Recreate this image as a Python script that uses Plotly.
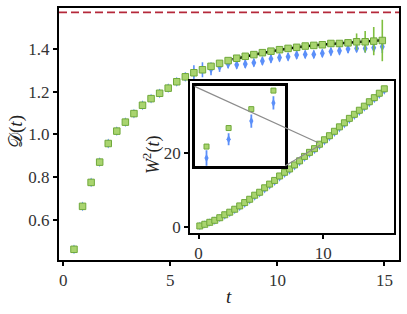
import plotly.graph_objects as go

# ---------------- data ----------------
t_main = [0.5, 0.9, 1.3, 1.7, 2.1, 2.5, 2.9, 3.3, 3.7, 4.1, 4.5, 4.9, 5.3, 5.7, 6.1,
          6.5, 6.9, 7.3, 7.7, 8.1, 8.5, 8.9, 9.3, 9.7, 10.1, 10.5, 10.9, 11.3, 11.7,
          12.1, 12.5, 12.9, 13.3, 13.7, 14.1, 14.5, 14.9]
D_square = [0.462, 0.663, 0.775, 0.870, 0.957, 1.015, 1.057, 1.097, 1.136, 1.167,
            1.192, 1.216, 1.246, 1.269, 1.288, 1.302, 1.318, 1.332, 1.345, 1.356,
            1.365, 1.373, 1.382, 1.389, 1.396, 1.402, 1.407, 1.413, 1.416, 1.419,
            1.425, 1.425, 1.428, 1.433, 1.433, 1.436, 1.439]
D_square_err = [0.004] * 30 + [0.01, 0.01, 0.015, 0.039, 0.05, 0.066, 0.097]
D_diamond = [0.462, 0.663, 0.775, 0.870, 0.957, 1.015, 1.057, 1.097, 1.136, 1.167,
             1.192, 1.216, 1.246, 1.269, 1.288, 1.302, 1.306, 1.317, 1.329, 1.325,
             1.329, 1.335, 1.343, 1.353, 1.359, 1.363, 1.371, 1.374, 1.374, 1.379,
             1.387, 1.391, 1.399, 1.402, 1.402, 1.405, 1.410]
D_diamond_err = [0.006] * 13 + [0.02, 0.035, 0.035, 0.03, 0.025, 0.02] + [0.018] * 17 + [0.03]
fit_t = [7.9, 9.0, 10.0, 11.0, 12.0, 13.0, 14.0, 14.9]
fit_D = [1.350, 1.375, 1.393, 1.408, 1.419, 1.427, 1.434, 1.440]
D_limit = 1.5708

t_inset = [0.1, 0.5, 0.9, 1.3, 1.7, 2.1, 2.5, 2.9, 3.3, 3.7, 4.1, 4.5, 4.9, 5.3, 5.7,
           6.1, 6.5, 6.9, 7.3, 7.7, 8.1, 8.5, 8.9, 9.3, 9.7, 10.1, 10.5, 10.9, 11.3,
           11.7, 12.1, 12.5, 12.9, 13.3, 13.7, 14.1, 14.5, 14.9]
W_square = [0.27, 0.73, 1.26, 1.8, 2.5, 3.3, 4.0, 4.8, 5.7, 6.6, 7.5, 8.6, 9.4, 10.6,
            11.6, 12.6, 13.8, 14.8, 15.7, 16.8, 17.9, 19.1, 20.2, 21.2, 22.4, 23.6,
            24.7, 25.9, 27.1, 28.2, 29.4, 30.5, 31.6, 32.7, 33.9, 35.0, 36.2, 37.4]
W_diamond = [0.27, 0.7, 1.2, 1.7, 2.4, 3.1, 3.8, 4.6, 5.4, 6.3, 7.2, 8.2, 9.1, 10.2,
             11.2, 12.2, 13.4, 14.4, 15.3, 16.4, 17.5, 18.7, 19.8, 20.8, 22.0, 23.2,
             24.3, 25.5, 26.7, 27.8, 29.0, 30.1, 31.2, 32.3, 33.5, 34.6, 35.8, 36.9]

zoom_t = [9.621, 9.660, 9.700, 9.739]
zoom_square = [22.345, 22.485, 22.628, 22.768]
zoom_diamond = [22.258, 22.400, 22.538, 22.675]
zoom_diamond_err = [0.06, 0.045, 0.05, 0.05]

# ---------------- layout constants ----------------
GREEN_FILL = "#a9d46f"
GREEN_EDGE = "#6fa83a"
GREEN_ERR = "#7fbf3f"
BLUE = "#5b8ff9"
FONT = "'Liberation Serif', 'DejaVu Serif', serif"

main_xr = [-0.2, 15.68]
main_yr = [0.412, 1.591]
ins_dom_x = [0.3856, 0.9839]
ins_dom_y = [0.1075, 0.7087]
ins_xr = [-0.68, 15.64]
ins_yr = [-1.61, 39.4]
zin_dom_x = [0.3988, 0.6657]
zin_dom_y = [0.374, 0.689]
zoom_xr = [9.60, 9.76]
zoom_yr = [22.2, 22.8]

fig = go.Figure()

# main panel
fig.add_trace(go.Scatter(
    x=t_main, y=D_diamond, mode="markers",
    marker=dict(symbol="diamond-tall", size=7, color=BLUE, line=dict(width=0)),
    error_y=dict(type="data", array=D_diamond_err, color=BLUE, thickness=1.6, width=0),
    xaxis="x", yaxis="y", showlegend=False))
fig.add_trace(go.Scatter(
    x=fit_t, y=fit_D, mode="lines", line=dict(color="black", width=2.5),
    xaxis="x", yaxis="y", showlegend=False))
fig.add_trace(go.Scatter(
    x=t_main, y=D_square, mode="markers",
    marker=dict(symbol="square", size=6.5, color=GREEN_FILL, line=dict(width=1, color=GREEN_EDGE)),
    error_y=dict(type="data", array=D_square_err, color=GREEN_ERR, thickness=1.6, width=0),
    xaxis="x", yaxis="y", showlegend=False))
fig.add_trace(go.Scatter(
    x=main_xr, y=[D_limit, D_limit], mode="lines",
    line=dict(color="#b5283a", width=1.8, dash="8px,4px"),
    xaxis="x", yaxis="y", showlegend=False))

# inset panel
fig.add_trace(go.Scatter(
    x=t_inset, y=W_diamond, mode="markers",
    marker=dict(symbol="diamond-tall", size=6, color=BLUE, line=dict(width=0)),
    xaxis="x2", yaxis="y2", showlegend=False))
fig.add_trace(go.Scatter(
    x=t_inset, y=W_square, mode="markers",
    marker=dict(symbol="square", size=6, color=GREEN_FILL, line=dict(width=1, color=GREEN_EDGE)),
    xaxis="x2", yaxis="y2", showlegend=False))

# zoom panel inside inset
fig.add_trace(go.Scatter(
    x=zoom_t, y=zoom_diamond, mode="markers",
    marker=dict(symbol="diamond-tall", size=6, color=BLUE, line=dict(width=0)),
    error_y=dict(type="data", array=zoom_diamond_err, color=BLUE, thickness=1.8, width=0),
    xaxis="x3", yaxis="y3", showlegend=False))
fig.add_trace(go.Scatter(
    x=zoom_t, y=zoom_square, mode="markers",
    marker=dict(symbol="square", size=5, color=GREEN_FILL, line=dict(width=1, color=GREEN_EDGE)),
    xaxis="x3", yaxis="y3", showlegend=False))


def to_paper(v, rng, dom):
    return dom[0] + (v - rng[0]) / (rng[1] - rng[0]) * (dom[1] - dom[0])


# connector lines (zoom region corners -> zoom panel corners)
conn = [
    ((zin_dom_x[0], zin_dom_y[1]), (zoom_xr[0], zoom_yr[1])),
    ((zin_dom_x[1], zin_dom_y[0]), (zoom_xr[1], zoom_yr[0])),
]
shapes = []
for (px, py), (dx, dy) in conn:
    shapes.append(dict(
        type="line", xref="paper", yref="paper",
        x0=px, y0=py,
        x1=to_paper(dx, ins_xr, ins_dom_x), y1=to_paper(dy, ins_yr, ins_dom_y),
        line=dict(color="#8c8c8c", width=1.2), layer="above"))

tickfont = dict(family=FONT, size=17, color="#333333")
axis_common = dict(showgrid=False, zeroline=False, showline=True, mirror=True,
                   linecolor="black", ticks="outside", tickcolor="black",
                   tickfont=tickfont)

fig.update_layout(
    width=407, height=314,
    margin=dict(l=59, r=7, t=6, b=54),
    paper_bgcolor="white", plot_bgcolor="white",
    font=dict(family=FONT, color="#222222"),
    xaxis=dict(domain=[0, 1], range=main_xr, tickvals=[0, 5, 10, 15],
               linewidth=2, ticklen=4, tickwidth=1.5, anchor="y", **axis_common),
    yaxis=dict(domain=[0, 1], range=main_yr, tickvals=[0.6, 0.8, 1.0, 1.2, 1.4],
               ticktext=["0.6", "0.8", "1.0", "1.2", "1.4"],
               linewidth=2, ticklen=4, tickwidth=1.5, anchor="x", **axis_common),
    xaxis2=dict(domain=ins_dom_x, range=ins_xr, tickvals=[0, 10], anchor="y2",
                linewidth=2, ticklen=4, tickwidth=1.5, **axis_common),
    yaxis2=dict(domain=ins_dom_y, range=ins_yr, tickvals=[0, 20], anchor="x2",
                linewidth=2, ticklen=4, tickwidth=1.5, **axis_common),
    xaxis3=dict(domain=zin_dom_x, range=zoom_xr, anchor="y3", showgrid=False,
                zeroline=False, showline=True, mirror=True, linecolor="black",
                linewidth=2.5, showticklabels=False, ticks=""),
    yaxis3=dict(domain=zin_dom_y, range=zoom_yr, anchor="x3", showgrid=False,
                zeroline=False, showline=True, mirror=True, linecolor="black",
                linewidth=2.5, showticklabels=False, ticks=""),
    shapes=shapes,
    annotations=[
        dict(text="<i>t</i>", x=0.5, y=-0.145, xref="paper", yref="paper",
             xanchor="center", yanchor="middle", showarrow=False,
             font=dict(family=FONT, size=19, color="#222222")),
        dict(text="𝒟(<i>t</i>)", x=-0.125, y=0.51, xref="paper", yref="paper",
             xanchor="center", yanchor="middle", showarrow=False, textangle=-90,
             font=dict(family=FONT, size=19, color="#222222")),
        dict(text="<i>W</i><sup>2</sup>(<i>t</i>)", x=0.275, y=0.415,
             xref="paper", yref="paper", xanchor="center", yanchor="middle",
             showarrow=False, textangle=-90,
             font=dict(family=FONT, size=18, color="#222222")),
    ],
)

fig.write_html("out.html",
               config={"displayModeBar": False},
               post_script="document.body.style.margin='0px';"
                           "document.body.style.overflow='hidden';")
